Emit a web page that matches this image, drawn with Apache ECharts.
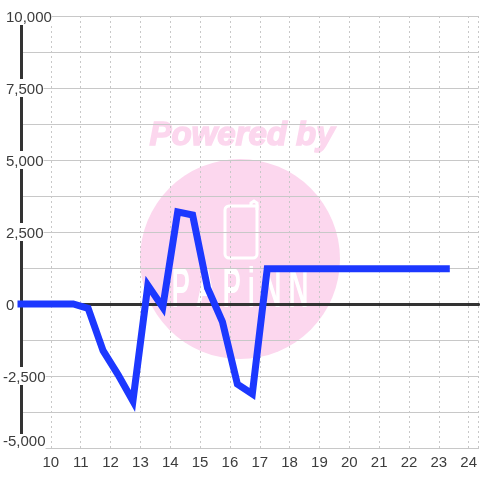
<!DOCTYPE html>
<html>
<head>
<meta charset="utf-8">
<style>
html, body { margin: 0; padding: 0; background: #fff; }
#chart { width: 480px; height: 480px; }
</style>
<script src="https://cdn.jsdelivr.net/npm/echarts@6/dist/echarts.min.js"></script>
</head>
<body>
<div id="chart"></div>
<script>
const hours = [9, 9.25, 9.75, 10.25, 10.75, 11.25, 11.75, 12.25, 12.75, 13.25, 13.75, 14.25, 14.75, 15.25, 15.75, 16.25, 16.75, 17.25, 17.75, 18.25, 18.75, 19.25, 19.75, 20.25, 20.75, 21.25, 21.75, 22.25, 22.75, 23.25];
const values = [0, 0, 0, 0, 0, -150, -1620, -2450, -3370, 650, -110, 3200, 3090, 560, -620, -2780, -3120, 1220, 1220, 1220, 1220, 1220, 1220, 1220, 1220, 1220, 1220, 1220, 1220, 1220];
const yLabels = [10000, 7500, 5000, 2500, 0, -2500, -5000];

const gridColor = "#c8c8c8";
const textColor = "#3c3c3c";
const pink = "#fcd7ee";

let myChart = echarts.init(document.getElementById("chart"));
myChart.setOption({
  animation: false,
  backgroundColor: "#fff",
  textStyle: { fontFamily: "Liberation Sans" },
  grid: { left: 20, right: 0, top: 16, bottom: 32 },
  xAxis: [
    {
      type: "value",
      min: 9,
      max: 24.3333,
      interval: 1,
      position: "bottom",
      axisLine: { onZero: false, lineStyle: { color: gridColor, width: 1 } },
      axisTick: { show: false },
      axisLabel: {
        color: textColor,
        fontSize: 15,
        margin: 7,
        showMaxLabel: false,
        formatter: v => (v === 9 || v % 1 !== 0 ? "" : String(v))
      },
      splitLine: { show: true, lineStyle: { color: gridColor, type: [2, 3], width: 1 } }
    },
    {
      // dark line through zero
      type: "value",
      min: 9,
      max: 24.3333,
      interval: 1,
      axisLine: { onZero: true, lineStyle: { color: "#333", width: 3 } },
      axisTick: { show: false },
      axisLabel: { show: false },
      splitLine: { show: false }
    }
  ],
  yAxis: {
    type: "value",
    min: -5000,
    max: 10000,
    interval: 1250,
    axisLine: { show: true, lineStyle: { color: "#333", width: 3 } },
    axisTick: { show: false },
    axisLabel: {
      align: "left",
      margin: 18,
      showMinLabel: true,
      showMaxLabel: true,
      formatter: v => {
        if (!yLabels.includes(v)) return "";
        const s = Math.abs(v).toLocaleString("en-US");
        if (v === -5000) return "{low|-" + s + "}";
        return v < 0 ? "{neg|-" + s + "}" : "{pos|" + s + "}";
      },
      rich: {
        low: { color: textColor, fontSize: 15, backgroundColor: "#fff", padding: [0, 0, 13, 0] },
        neg: { color: textColor, fontSize: 15, backgroundColor: "#fff", padding: [3, 0, 0, 0] },
        pos: { color: textColor, fontSize: 15, backgroundColor: "#fff", padding: [3, 0, 0, 3] }
      }
    },
    splitLine: { show: true, lineStyle: { color: gridColor, width: 1 } }
  },
  graphic: [
    { type: "circle", z: -1, shape: { cx: 240, cy: 259, r: 100 }, style: { fill: pink } },
    {
      type: "text", z: -1, x: 242, y: 136,
      style: {
        text: "Powered by", fill: pink, stroke: pink, lineWidth: 1.5, fontSize: 33, fontWeight: "bold", fontStyle: "italic",
        fontFamily: "Liberation Sans", textAlign: "center", textVerticalAlign: "middle"
      }
    },
    {
      type: "rect", z: -1, shape: { x: 225, y: 206, width: 32, height: 52, r: [4, 0, 4, 4] },
      style: { fill: "none", stroke: "#fff", lineWidth: 3 }
    },
    {
      type: "polyline", z: -1,
      shape: { points: [[251, 206], [251, 203], [254, 201], [257, 203], [257, 210]] },
      style: { fill: "none", stroke: "#fff", lineWidth: 3 }
    },
    {
      type: "text", z: -1, x: 240, y: 291.5, scaleX: 0.5,
      style: {
        text: "P A P i N N", fill: "#fff", stroke: "#fff", lineWidth: 2, fontSize: 54, fontFamily: "Liberation Sans",
        textAlign: "center", textVerticalAlign: "middle"
      }
    }
  ],
  series: [
    {
      type: "line",
      data: hours.map((h, i) => [h, values[i]]),
      xAxisIndex: 0,
      showSymbol: false,
      clip: false,
      lineStyle: { color: "#1c38ff", width: 7, cap: "square", join: "miter" }
    }
  ]
});
</script>
</body>
</html>
